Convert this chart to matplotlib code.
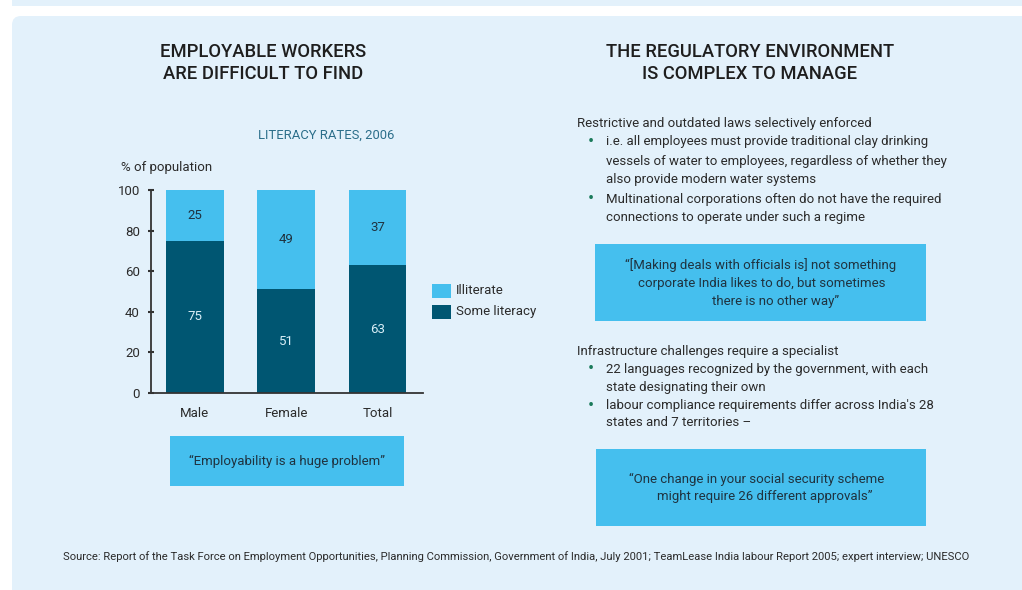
import matplotlib.pyplot as plt
from matplotlib.patches import Rectangle, FancyBboxPatch
import numpy as np

plt.rcParams['font.family'] = ['Roboto', 'DejaVu Sans']

categories = ["Male", "Female", "Total"]
some_literacy = [75, 51, 63]
illiterate = [25, 49, 37]
yticks = [0, 20, 40, 60, 80, 100]

LIGHT = "#45bfee"
DARK = "#005672"
BG = "#e3f1fb"
TXT = "#2b2b2b"
QTXT = "#1f3340"
FS = 9.5

W, H = 1022, 590
fig = plt.figure(figsize=(W / 100, H / 100), dpi=100)
fig.patch.set_facecolor("white")

# background canvas in pixel coordinates
bg = fig.add_axes([0, 0, 1, 1])
bg.set_xlim(0, W)
bg.set_ylim(H, 0)
bg.axis("off")
bg.add_patch(Rectangle((12, -5), 1100, 11, color=BG, lw=0))
bg.add_patch(FancyBboxPatch((12, 16), 1100, 600, boxstyle="round,pad=0,rounding_size=9",
                            color=BG, lw=0))

# titles
bg.text(263, 63, "EMPLOYABLE WORKERS\nARE DIFFICULT TO FIND", ha="center", va="center",
        fontsize=13.2, fontweight="medium", color="#1e1e1e", linespacing=1.3)
bg.text(750, 63, "THE REGULATORY ENVIRONMENT\nIS COMPLEX TO MANAGE", ha="center", va="center",
        fontsize=13.2, fontweight="medium", color="#1e1e1e", linespacing=1.3)
bg.text(326, 135, "LITERACY RATES, 2006", ha="center", va="center", fontsize=9.4, color="#2b6e8a")
bg.text(121, 168, "% of population", ha="left", va="center", fontsize=FS, color=TXT)

# legend
bg.add_patch(Rectangle((432, 284), 19, 14, color=LIGHT, lw=0))
bg.add_patch(Rectangle((432, 305), 19, 14, color=DARK, lw=0))
bg.text(456, 291, "Illiterate", va="center", fontsize=FS, color=TXT)
bg.text(456, 312, "Some literacy", va="center", fontsize=FS, color=TXT)

# quote boxes
bg.add_patch(Rectangle((170, 436), 234, 50, color=LIGHT, lw=0))
bg.text(287, 461, "\u201cEmployability is a huge problem\u201d", ha="center", va="center",
        fontsize=FS, color=QTXT)
bg.add_patch(Rectangle((595, 244), 331, 77, color=LIGHT, lw=0))
q1 = ["\u201c[Making deals with officials is] not something",
      "corporate India likes to do, but sometimes",
      "there is no other way\u201d"]
for i, (s, cx) in enumerate(zip(q1, [761, 762, 776])):
    bg.text(cx, 265 + 18 * i, s, ha="center", va="center", fontsize=FS, color=QTXT)
bg.add_patch(Rectangle((596, 449), 330, 77, color=LIGHT, lw=0))
q2 = ["\u201cOne change in your social security scheme",
      "might require 26 different approvals\u201d"]
for i, (s, cx) in enumerate(zip(q2, [757, 765])):
    bg.text(cx, 479 + 17.5 * i, s, ha="center", va="center", fontsize=FS, color=QTXT)

# bullet text
bg.text(577, 124, "Restrictive and outdated laws selectively enforced", va="center",
        fontsize=FS, color=TXT)
lines1 = [("i.e. all employees must provide traditional clay drinking", True),
          ("vessels of water to employees, regardless of whether they", False),
          ("also provide modern water systems", False),
          ("Multinational corporations often do not have the required", True),
          ("connections to operate under such a regime", False)]
for (s, b), y in zip(lines1, [142, 161, 180, 199, 217]):
    if b:
        bg.text(591, y, "\u2022", ha="center", va="center", fontsize=13, color="#1a7a5a")
    bg.text(606, y, s, va="center", fontsize=FS, color=TXT)

bg.text(577, 351, "Infrastructure challenges require a specialist", va="center",
        fontsize=FS, color=TXT)
lines2 = [("22 languages recognized by the government, with each", True),
          ("state designating their own", False),
          ("labour compliance requirements differ across India's 28", True),
          ("states and 7 territories \u2013", False)]
for (s, b), y in zip(lines2, [369, 387, 406, 423]):
    if b:
        bg.text(591, y, "\u2022", ha="center", va="center", fontsize=13, color="#1a7a5a")
    bg.text(606, y, s, va="center", fontsize=FS, color=TXT)

bg.text(63, 557, "Source: Report of the Task Force on Employment Opportunities, Planning Commission, "
        "Government of India, July 2001; TeamLease India labour Report 2005; expert interview; UNESCO",
        va="center", fontsize=8.1, color=TXT)

# bar chart
ax = fig.add_axes([151 / W, 1 - 393 / H, (423 - 151) / W, (393 - 190) / H])
ax.set_facecolor("none")
x = np.arange(len(categories))
b1 = ax.bar(x, some_literacy, width=0.63, color=DARK)
b2 = ax.bar(x, illiterate, width=0.63, bottom=some_literacy, color=LIGHT)
ax.bar_label(b1, label_type="center", color="#d8eef7", fontsize=FS)
ax.bar_label(b2, label_type="center", color=QTXT, fontsize=FS)
ax.set_xlim(-0.48, 2.5)
ax.set_ylim(0, 100)
ax.set_yticks(yticks)
ax.set_xticks(x, categories)
for s in ["top", "right"]:
    ax.spines[s].set_visible(False)
ax.spines["left"].set_color("#333333")
ax.spines["bottom"].set_color("#333333")
ax.spines["left"].set_linewidth(1.3)
ax.spines["bottom"].set_linewidth(1.3)
ax.tick_params(axis="y", direction="inout", length=4, width=1.5, color="#333333",
               labelsize=FS, labelcolor=TXT, pad=6)
ax.tick_params(axis="x", length=0, labelsize=FS, labelcolor=TXT, pad=10)

fig.savefig("out.png", dpi=100)
